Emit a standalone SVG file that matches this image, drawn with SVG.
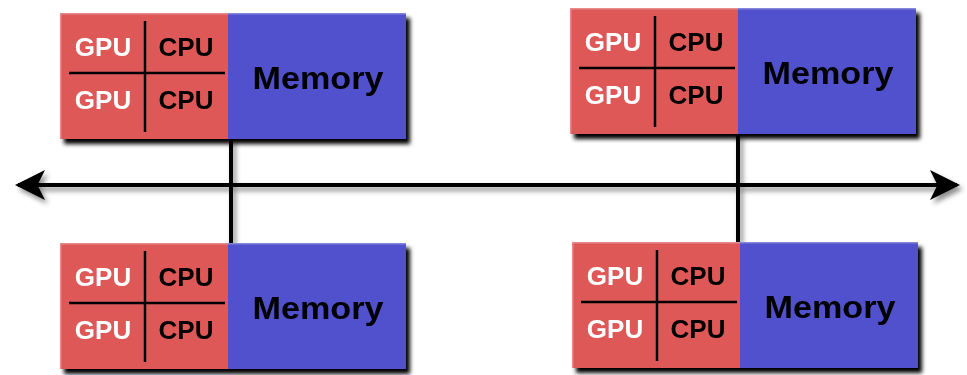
<svg xmlns="http://www.w3.org/2000/svg" width="967" height="375" viewBox="0 0 967 375">
<defs>
<filter id="sh" x="-10%" y="-10%" width="120%" height="130%">
<feDropShadow dx="4" dy="5" stdDeviation="2.2" flood-color="#000" flood-opacity="1"/>
</filter>
<filter id="lsh" x="-5%" y="-50%" width="110%" height="200%">
<feDropShadow dx="3" dy="4" stdDeviation="2.5" flood-color="#000" flood-opacity="0.45"/>
</filter>
<marker id="ah" viewBox="0 0 10 10" refX="9" refY="5" markerWidth="7.5" markerHeight="7.5" markerUnits="strokeWidth" orient="auto-start-reverse">
<path d="M0,0 L10,5 L0,10 L2.5,5 Z" fill="#000"/>
</marker>
<g id="node">
<rect x="0" y="0" width="168" height="126" fill="#df5858"/>
<rect x="168" y="0" width="178" height="126" fill="#5151cd"/>
<path d="M0,0.75 H346 M0.75,0 V126" stroke="#fff" stroke-opacity="0.3" stroke-width="1.5" fill="none"/>
<path d="M85,8 V119 M9,60 H165" stroke="#000" stroke-width="2.5" fill="none"/>
<text x="43" y="43" class="w">GPU</text>
<text x="126" y="43" class="b">CPU</text>
<text x="43" y="96" class="w">GPU</text>
<text x="126" y="96" class="b">CPU</text>
<text x="258" y="76" class="m" textLength="131" lengthAdjust="spacingAndGlyphs">Memory</text>
</g>
</defs>
<style>
text { font-family: "Liberation Sans", Arial, sans-serif; font-weight: bold; text-anchor: middle; }
.w { fill: #fff; font-size: 26px; }
.b { fill: #000; font-size: 26px; }
.m { fill: #000; font-size: 32px; }
.ln { stroke: #000; stroke-width: 4; fill: none; }
</style>
<g id="connectors" filter="url(#lsh)">
<line class="ln" x1="18" y1="185" x2="957" y2="185" marker-start="url(#ah)" marker-end="url(#ah)"/>
<line class="ln" x1="231" y1="138" x2="231" y2="243"/>
<line class="ln" x1="738" y1="134" x2="738" y2="242"/>
</g>
<g id="node-top-left" filter="url(#sh)"><use href="#node" x="60" y="13"/></g>
<g id="node-top-right" filter="url(#sh)"><use href="#node" x="570" y="8"/></g>
<g id="node-bottom-left" filter="url(#sh)"><use href="#node" x="60" y="243"/></g>
<g id="node-bottom-right" filter="url(#sh)"><use href="#node" x="572" y="242"/></g>
</svg>
